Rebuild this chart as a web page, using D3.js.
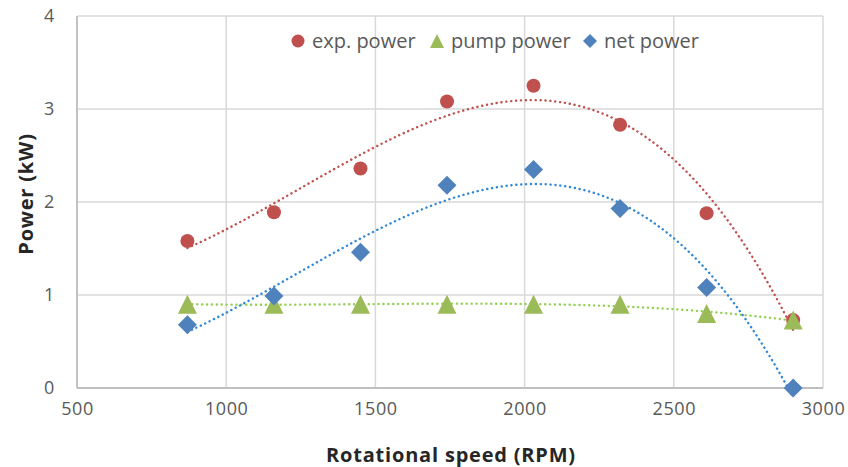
<!DOCTYPE html>
<html><head><meta charset="utf-8">
<script src="https://cdn.jsdelivr.net/npm/d3@7"></script>
<style>
body{margin:0;background:#fff;}
svg{display:block;font-family:"Open Sans",sans-serif;}
</style></head>
<body><svg id="c" width="848" height="467"></svg>
<script>
const rpm = [870, 1160, 1450, 1740, 2030, 2320, 2610, 2900];
const expPower = [1.58, 1.89, 2.36, 3.08, 3.25, 2.83, 1.88, 0.73];
const pumpPower = [0.90, 0.90, 0.90, 0.90, 0.90, 0.90, 0.80, 0.73];
const netPower = [0.68, 0.99, 1.46, 2.18, 2.35, 1.93, 1.08, 0.00];
const xTicks = [500, 1000, 1500, 2000, 2500, 3000];
const yTicks = [0, 1, 2, 3, 4];
const seriesNames = ["exp. power", "pump power", "net power"];

const svg = d3.select("#c");
const x = d3.scaleLinear().domain([500, 3000]).range([77, 823]);
const y = d3.scaleLinear().domain([0, 4]).range([388, 16]);

// gridlines
svg.append("g").selectAll("line").data(xTicks).join("line")
  .attr("x1", d => x(d)).attr("x2", d => x(d)).attr("y1", y(0)).attr("y2", y(4))
  .attr("stroke", "#d9d9d9").attr("stroke-width", 1.5);
svg.append("g").selectAll("line").data(yTicks).join("line")
  .attr("x1", x(500)).attr("x2", x(3000)).attr("y1", d => y(d)).attr("y2", d => y(d))
  .attr("stroke", "#d9d9d9").attr("stroke-width", 1.5);
// axis lines
svg.append("line").attr("x1", x(500)).attr("x2", x(3000)).attr("y1", y(0)).attr("y2", y(0)).attr("stroke", "#bfbfbf").attr("stroke-width", 1.8);
svg.append("line").attr("x1", x(500)).attr("x2", x(500)).attr("y1", y(0)).attr("y2", y(4)).attr("stroke", "#bfbfbf").attr("stroke-width", 1.8);

const xAxis = svg.append("g").attr("transform", `translate(0,${y(0)})`)
  .call(d3.axisBottom(x).tickValues(xTicks).tickSize(0).tickPadding(14).tickFormat(d3.format("d")));
const yAxis = svg.append("g").attr("transform", `translate(${x(500)},0)`)
  .call(d3.axisLeft(y).tickValues(yTicks).tickSize(0).tickPadding(22).tickFormat(d3.format("d")));
[xAxis, yAxis].forEach(a => {
  a.select(".domain").remove();
  a.selectAll("text").attr("fill", "#595959").style("font-size", "18px")
    .style("letter-spacing", "0.6px").style("font-family", "'Open Sans',sans-serif");
});

// titles
svg.append("text").attr("x", 451).attr("y", 462).attr("text-anchor", "middle")
  .attr("font-weight", "bold").attr("font-size", 20).attr("letter-spacing", 0.8)
  .attr("fill", "#262626").text("Rotational speed (RPM)");
svg.append("text").attr("transform", "translate(33,194) rotate(-90)").attr("text-anchor", "middle")
  .attr("font-weight", "bold").attr("font-size", 20).attr("letter-spacing", 0.8)
  .attr("fill", "#262626").text("Power (kW)");

// Excel-style polynomial (order 3) least-squares trendlines computed from the data
function polyfit(xs, ys, order) {
  const m = d3.mean(xs), s = d3.deviation(xs);
  const t = xs.map(v => (v - m) / s);
  const n = order + 1;
  const A = Array.from({length: n}, () => new Array(n + 1).fill(0));
  for (let i = 0; i < t.length; i++) {
    for (let r = 0; r < n; r++) {
      for (let c = 0; c < n; c++) A[r][c] += Math.pow(t[i], r + c);
      A[r][n] += ys[i] * Math.pow(t[i], r);
    }
  }
  for (let p = 0; p < n; p++) {
    let mx = p;
    for (let r = p + 1; r < n; r++) if (Math.abs(A[r][p]) > Math.abs(A[mx][p])) mx = r;
    [A[p], A[mx]] = [A[mx], A[p]];
    for (let r = 0; r < n; r++) {
      if (r === p) continue;
      const f = A[r][p] / A[p][p];
      for (let c = p; c <= n; c++) A[r][c] -= f * A[p][c];
    }
  }
  const coef = A.map((row, i) => row[n] / row[i]);
  return v => { const tt = (v - m) / s; return coef.reduce((acc, c, i) => acc + c * Math.pow(tt, i), 0); };
}

const series = [
  {name: seriesNames[0], vals: expPower, color: "#c0504d", trend: "#c0504d", shape: "circle"},
  {name: seriesNames[1], vals: pumpPower, color: "#9bbb59", trend: "#92d050", shape: "triangle"},
  {name: seriesNames[2], vals: netPower, color: "#4f81bd", trend: "#2e86d6", shape: "diamond"}
];
function marker(shape, w) {
  const h = w / 2;
  if (shape === "circle") return `M${-h},0a${h},${h} 0 1,0 ${w},0a${h},${h} 0 1,0 ${-w},0Z`;
  if (shape === "triangle") return `M0,${-h}L${h},${h}L${-h},${h}Z`;
  return `M0,${-h}L${h},0L0,${h}L${-h},0Z`;
}
const markerSize = {circle: 14, triangle: 19, diamond: 19};
const legendSize = {circle: 13, triangle: 14, diamond: 14};

const line = d3.line().x(d => x(d[0])).y(d => y(d[1]));
series.forEach(sr => {
  const f = polyfit(rpm, sr.vals, 3);
  const xs = d3.range(rpm[0], rpm[rpm.length - 1] + 1, 10);
  svg.append("path").datum(xs.map(v => [v, f(v)])).attr("d", line)
    .attr("fill", "none").attr("stroke", sr.trend).attr("stroke-width", 2.4)
    .attr("stroke-linecap", "round").attr("stroke-dasharray", "0.1 4.8");
});
series.forEach(sr => {
  svg.append("g").selectAll("path").data(rpm.map((r, i) => [r, sr.vals[i]])).join("path")
    .attr("transform", d => `translate(${x(d[0])},${y(d[1])})`)
    .attr("d", marker(sr.shape, markerSize[sr.shape]))
    .attr("fill", sr.color);
});

// legend
const legX = [298, 437, 590];
const legTextX = [312, 451, 604];
const leg = svg.append("g");
series.forEach((sr, i) => {
  leg.append("path").attr("transform", `translate(${legX[i]},41)`)
    .attr("d", marker(sr.shape, legendSize[sr.shape])).attr("fill", sr.color);
  leg.append("text").attr("x", legTextX[i]).attr("y", 48).attr("font-size", 20).attr("fill", "#595959").text(sr.name);
});
</script></body></html>
